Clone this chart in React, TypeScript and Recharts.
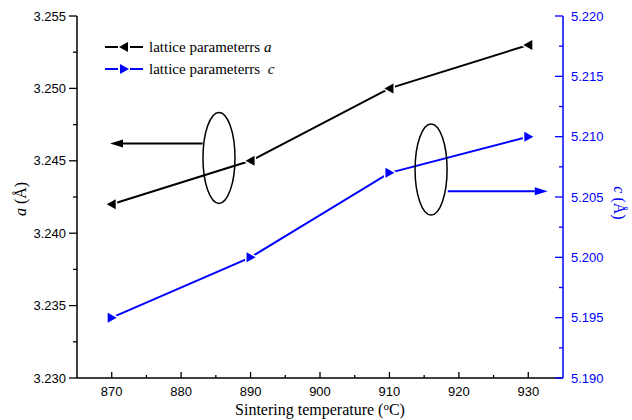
import React from "react";
import {
  LineChart,
  Line,
  XAxis,
  YAxis,
  Legend,
  ReferenceDot,
  ReferenceLine,
} from "recharts";

// values
const temps = [870, 890, 910, 930];
const latticeA = [3.242, 3.245, 3.25, 3.253];
const latticeC = [5.195, 5.2, 5.207, 5.21];

const xTicks = [870, 875, 880, 885, 890, 895, 900, 905, 910, 915, 920, 925, 930];
const aTicks = [3.23, 3.2325, 3.235, 3.2375, 3.24, 3.2425, 3.245, 3.2475, 3.25, 3.2525, 3.255];
const cTicks = [5.19, 5.1925, 5.195, 5.1975, 5.2, 5.2025, 5.205, 5.2075, 5.21, 5.2125, 5.215, 5.2175, 5.22];

// annotation marks (ellipses + arrows), in data units of x / a axis
const ellipses = [
  { x: 885.45, y: 3.2452 },
  { x: 916.0, y: 3.2444 },
];
const arrowA = { from: { x: 883.1, y: 3.2462 }, to: { x: 869.75, y: 3.2462 } };
const arrowC = { from: { x: 918.4, y: 3.2429 }, to: { x: 932.8, y: 3.2429 } };

const data = temps.map((t, i) => ({ t, a: latticeA[i], c: latticeC[i] }));

const BLUE = "#0000ff";
const SANS = "'Liberation Sans', Arial, sans-serif";
const SERIF = "'Liberation Serif', 'Times New Roman', serif";

const isMajor = (v: number) => Math.abs(v * 200 - Math.round(v * 200)) < 1e-6;

const XTick = ({ x, y, payload }: any) => {
  const v = payload.value;
  const major = v % 10 === 0;
  return (
    <g>
      <line x1={x} x2={x} y1={y} y2={y - (major ? 6 : 3)} stroke="#000" strokeWidth={1.3} />
      {major && (
        <text x={x} y={y + 18} textAnchor="middle" fontSize={13} fontFamily={SANS} fill="#000">
          {v}
        </text>
      )}
    </g>
  );
};

const LeftTick = ({ x, y, payload }: any) => {
  const v = payload.value;
  const major = isMajor(v);
  return (
    <g>
      <line x1={x} x2={x - (major ? 8 : 4)} y1={y} y2={y} stroke="#000" strokeWidth={1.3} />
      {major && (
        <text x={x - 11} y={y} dy="0.35em" textAnchor="end" fontSize={13} fontFamily={SANS} fill="#000">
          {v.toFixed(3)}
        </text>
      )}
    </g>
  );
};

const RightTick = ({ x, y, payload }: any) => {
  const v = payload.value;
  const major = isMajor(v);
  return (
    <g>
      <line x1={x} x2={x - (major ? 8 : 4)} y1={y} y2={y} stroke={BLUE} strokeWidth={1.3} />
      {major && (
        <text x={x + 8} y={y} dy="0.35em" textAnchor="start" fontSize={13} fontFamily={SANS} fill={BLUE}>
          {v.toFixed(3)}
        </text>
      )}
    </g>
  );
};

const LeftTriangle = ({ cx, cy, fill }: any) => {
  if (cx == null || cy == null) return null;
  const pts = `${cx - 5},${cy} ${cx + 4},${cy - 5} ${cx + 4},${cy + 5}`;
  return (
    <g>
      <polygon points={pts} fill="#fff" stroke="#fff" strokeWidth={3} />
      <polygon points={pts} fill={fill} />
    </g>
  );
};

const RightTriangle = ({ cx, cy, fill }: any) => {
  if (cx == null || cy == null) return null;
  const pts = `${cx + 5},${cy} ${cx - 4},${cy - 5} ${cx - 4},${cy + 5}`;
  return (
    <g>
      <polygon points={pts} fill="#fff" stroke="#fff" strokeWidth={3} />
      <polygon points={pts} fill={fill} />
    </g>
  );
};

const makeArrow = (color: string) => (p: any) => {
  const { x1, y1, x2, y2 } = p;
  const dx = x2 - x1;
  const dy = y2 - y1;
  const len = Math.sqrt(dx * dx + dy * dy) || 1;
  const ux = dx / len;
  const uy = dy / len;
  const hl = 13;
  const hw = 4;
  const bx = x2 - ux * hl;
  const by = y2 - uy * hl;
  return (
    <g>
      <line x1={x1} y1={y1} x2={bx} y2={by} stroke={color} strokeWidth={2} />
      <polygon
        points={`${x2},${y2} ${bx - uy * hw},${by + ux * hw} ${bx + uy * hw},${by - ux * hw}`}
        fill={color}
      />
    </g>
  );
};

const EllipseShape = ({ cx, cy }: any) => (
  <ellipse cx={cx} cy={cy} rx={16} ry={45.5} fill="none" stroke="#000" strokeWidth={1.5} />
);

const LegendContent = () => {
  const rows = [
    { color: "#000", dir: "left", name: "a", pad: " " },
    { color: BLUE, dir: "right", name: "c", pad: "  " },
  ];
  return (
    <div style={{ fontFamily: SERIF, fontSize: 15, color: "#000" }}>
      {rows.map((r) => (
        <div key={r.name} style={{ display: "flex", alignItems: "center", height: 22, whiteSpace: "pre" }}>
          <svg width={40} height={14} style={{ marginRight: 4 }}>
            <line x1={0} x2={13} y1={7} y2={7} stroke={r.color} strokeWidth={2} />
            <line x1={25} x2={38} y1={7} y2={7} stroke={r.color} strokeWidth={2} />
            {r.dir === "left" ? (
              <polygon points="14,7 23,2 23,12" fill={r.color} />
            ) : (
              <polygon points="24,7 15,2 15,12" fill={r.color} />
            )}
          </svg>
          <span>
            lattice parameterrs{r.pad}
            <i>{r.name}</i>
          </span>
        </div>
      ))}
    </div>
  );
};

const LeftTitle = ({ viewBox }: any) => {
  const x = viewBox.x + 20;
  const y = viewBox.y + viewBox.height / 2 + 2;
  return (
    <text x={x} y={y} transform={`rotate(-90 ${x} ${y})`} textAnchor="middle" dy="0.35em" fontFamily={SERIF} fontSize={16} fill="#000">
      <tspan fontStyle="italic">a</tspan> (Å)
    </text>
  );
};

const RightTitle = ({ viewBox }: any) => {
  const x = viewBox.x + 57;
  const y = viewBox.y + viewBox.height / 2 + 6;
  return (
    <text x={x} y={y} transform={`rotate(90 ${x} ${y})`} textAnchor="middle" dy="0.35em" fontFamily={SERIF} fontSize={16} fill={BLUE}>
      <tspan fontStyle="italic">c</tspan> (Å)
    </text>
  );
};

const XTitle = ({ viewBox }: any) => {
  const x = viewBox.x + viewBox.width / 2;
  const y = viewBox.y + 37;
  return (
    <text x={x} y={y} textAnchor="middle" fontFamily={SERIF} fontSize={16} fill="#000">
      Sintering temperature (
      <tspan fontSize={11} dy={-5}>o</tspan>
      <tspan dy={5}>C)</tspan>
    </text>
  );
};

export default function App() {
  return (
    <div style={{ position: "absolute", left: 0, top: 0, width: 632, height: 420, background: "#fff" }}>
      <LineChart width={632} height={420} data={data} margin={{ top: 16, right: 0, bottom: 0, left: 0 }}>
        <XAxis
          dataKey="t"
          type="number"
          domain={[865, 935]}
          ticks={xTicks}
          interval={0}
          tick={XTick}
          tickLine={false}
          tickSize={0}
          tickMargin={0}
          axisLine={{ stroke: "#000", strokeWidth: 1.5 }}
          height={42}
          label={<XTitle />}
        />
        <XAxis
          xAxisId="top"
          orientation="top"
          type="number"
          dataKey="t"
          domain={[865, 935]}
          tick={false}
          tickLine={false}
          axisLine={{ stroke: "#000", strokeWidth: 1.5 }}
          height={0}
        />
        <YAxis
          yAxisId="a"
          type="number"
          domain={[3.23, 3.255]}
          ticks={aTicks}
          interval={0}
          tick={LeftTick}
          tickLine={false}
          tickSize={0}
          tickMargin={0}
          axisLine={{ stroke: "#000", strokeWidth: 1.5 }}
          width={77}
          label={<LeftTitle />}
        />
        <YAxis
          yAxisId="c"
          orientation="right"
          type="number"
          domain={[5.19, 5.22]}
          ticks={cTicks}
          interval={0}
          tick={RightTick}
          tickLine={false}
          tickSize={0}
          tickMargin={0}
          axisLine={{ stroke: BLUE, strokeWidth: 1.5 }}
          width={69}
          label={<RightTitle />}
        />
        <Legend
          layout="vertical"
          align="center"
          verticalAlign="middle"
          wrapperStyle={{ left: 105, top: 36, width: 260 }}
          content={LegendContent}
        />
        {ellipses.map((e, i) => (
          <ReferenceDot key={i} yAxisId="a" x={e.x} y={e.y} r={1} shape={EllipseShape} />
        ))}
        <ReferenceLine
          yAxisId="a"
          segment={[arrowA.from, arrowA.to]}
          shape={makeArrow("#000")}
        />
        <ReferenceLine
          yAxisId="a"
          segment={[arrowC.from, arrowC.to]}
          shape={makeArrow(BLUE)}
        />
        <Line
          yAxisId="a"
          dataKey="a"
          type="linear"
          stroke="#000"
          strokeWidth={2}
          dot={<LeftTriangle fill="#000" />}
          activeDot={false}
          isAnimationActive={false}
        />
        <Line
          yAxisId="c"
          dataKey="c"
          type="linear"
          stroke={BLUE}
          strokeWidth={2}
          dot={<RightTriangle fill={BLUE} />}
          activeDot={false}
          isAnimationActive={false}
        />
      </LineChart>
    </div>
  );
}
